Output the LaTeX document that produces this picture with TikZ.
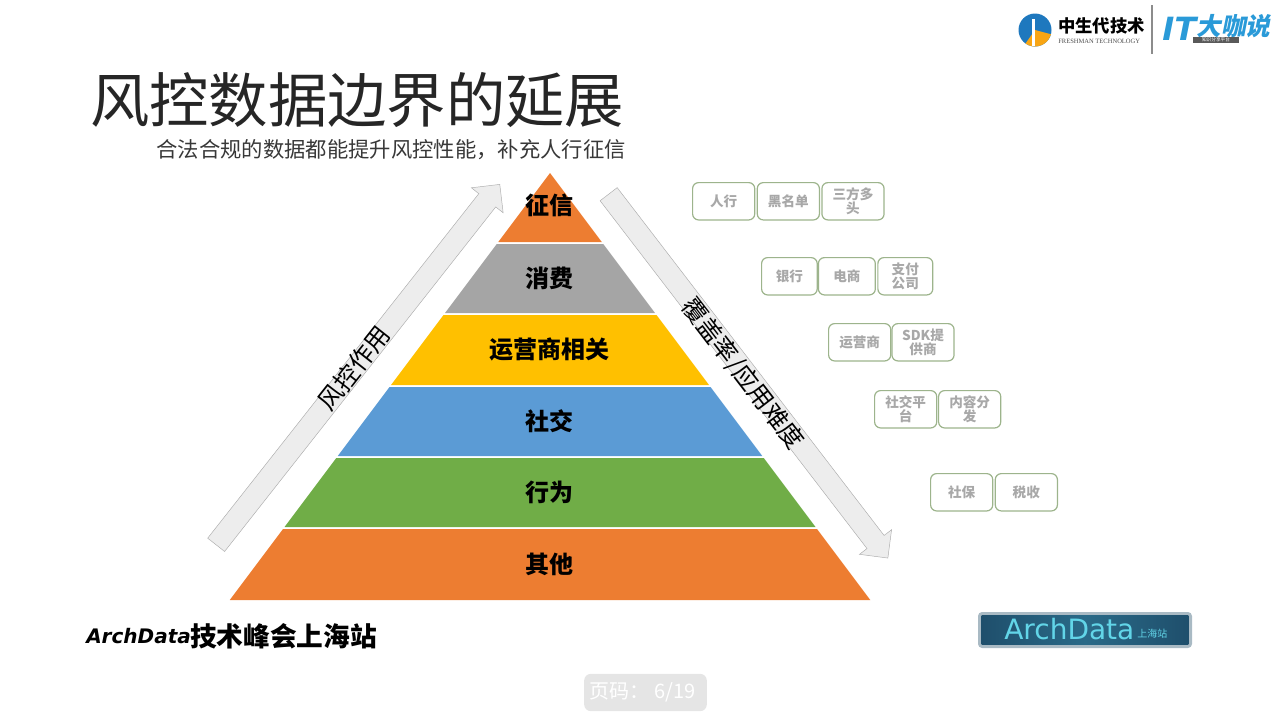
\documentclass[tikz,border=0pt]{standalone}
\usepackage{fontspec}
\setmainfont{Noto Sans CJK SC}
\newfontfamily\logofont{DejaVu Sans}
\newfontfamily\serifont{Liberation Serif}
\usetikzlibrary{positioning,shapes.arrows}
\definecolor{bandOrange}{HTML}{ED7D31}
\definecolor{bandGray}{HTML}{A5A5A5}
\definecolor{bandGold}{HTML}{FFC000}
\definecolor{bandBlue}{HTML}{5B9BD5}
\definecolor{bandGreen}{HTML}{70AD47}
\definecolor{sourceEdge}{HTML}{9DB48C}
\definecolor{sourceText}{HTML}{A8A8A8}
\definecolor{logoBlue}{HTML}{1E78BE}
\definecolor{logoCyan}{HTML}{2A9AD8}
\definecolor{badgeDark}{HTML}{1F4F6C}
\definecolor{badgeMid}{HTML}{2A6A88}
\definecolor{badgeGlow}{HTML}{A9BAC4}
\definecolor{badgeText}{HTML}{62D5E8}
\tikzset{
    bandlabel/.style={font=\fontsize{18}{18}\selectfont\bfseries, text=black, inner sep=0pt},
    sourcebox/.style={
        draw=sourceEdge,
        line width=0.9pt,
        rounded corners=4.5pt,
        fill=white,
        inner sep=0pt,
        minimum height=28pt,
        minimum width=46.6pt,
        align=center,
        text=sourceText,
        font=\fontsize{10.2}{11}\selectfont\bfseries
    },
    sideflow/.style={
        single arrow,
        draw=black!32,
        fill=black!7,
        line width=0.35pt,
        inner sep=7.9pt,
        minimum width=30pt,
        minimum height=344pt,
        single arrow head extend=7.1pt,
        single arrow head indent=0pt,
        anchor=tail
    },
    sidetext/.style={font=\fontsize{18.5}{18.5}\selectfont, inner sep=0pt}
}
\begin{document}
\begin{tikzpicture}[x=0.75pt,y=-0.75pt]
\useasboundingbox (0,0) rectangle (1280,718);
\foreach \topy/\boty/\bandcol in {173/242/bandOrange,244/313/bandGray,315/385/bandGold,387/456/bandBlue,458/527/bandGreen,529/600/bandOrange}{
    \fill[\bandcol] ({550-0.75*(\topy-173)},\topy) -- ({550+0.75*(\topy-173)},\topy)
        -- ({550+0.75*(\boty-173)},\boty) -- ({550-0.75*(\boty-173)},\boty) -- cycle;
}
\node[bandlabel] (credit) at (549.5,205) {征信};
\node[bandlabel] (spend) at (549.5,278) {消费};
\node[bandlabel] (carrier) at (549.5,349) {运营商相关};
\node[bandlabel] (social) at (549.5,421) {社交};
\node[bandlabel] (behave) at (549.5,492) {行为};
\node[bandlabel] (other) at (549.5,564) {其他};

\node[font=\fontsize{44.5}{44.5}\selectfont, text=black!85, inner sep=0pt] (title) at (357,100) {风控数据边界的延展};
\node[font=\fontsize{16}{16}\selectfont, text=black!78, inner sep=0pt] (subtitle) at (391,150) {合法合规的数据都能提升风控性能，补充人行征信};

\node[sideflow, rotate=51.8] (riskflow) at (216,545) {};
\node[sidetext, rotate=51.8] (risktext) at (354,368) {风控作用};
\node[sideflow, rotate=-52.5] (coverflow) at (608.5,194) {};
\node[sidetext, rotate=-52.5] (covertext) at (743,374) {覆盖率/应用难度};

\node[sourcebox, anchor=north west] (pboc) at (692,182) {人行};
\node[sourcebox, right=1pt of pboc] (blacklist) {黑名单};
\node[sourcebox, right=1pt of blacklist] (thirdparty) {三方多\\头};

\node[sourcebox, minimum width=41.7pt, anchor=north west] (bank) at (761,257) {银行};
\node[sourcebox, minimum width=42.7pt, right=0pt of bank] (ecom) {电商};
\node[sourcebox, minimum width=41.2pt, right=1pt of ecom] (pay) {支付\\公司};

\node[sourcebox, anchor=north west] (telecom) at (828,323) {运营商};
\node[sourcebox, right=0pt of telecom] (sdk) {SDK提\\供商};

\node[sourcebox, anchor=north west] (platform) at (874,390) {社交平\\台};
\node[sourcebox, right=0.5pt of platform] (content) {内容分\\发};

\node[sourcebox, anchor=north west] (insure) at (930,473) {社保};
\node[sourcebox, right=1pt of insure] (tax) {税收};

\node[font=\fontsize{15}{15}\selectfont\bfseries\itshape\logofont, inner sep=0pt, anchor=west] (archname) at (86,636) {ArchData};
\node[font=\fontsize{20}{20}\selectfont\bfseries, inner sep=0pt, anchor=west] (archcn) at (190,636) {技术峰会上海站};

\node[fill=black!10, rounded corners=5pt, minimum width=92pt, minimum height=28pt, inner sep=0pt] (pagebox) at (645.5,692.5) {};
\node[text=white, font=\fontsize{15}{15}\selectfont, inner sep=0pt] (pageno) at (642.5,692.5) {页码： 6/19};

\node[fill=badgeGlow, minimum width=160.5pt, minimum height=27pt, inner sep=0pt, rounded corners=3pt] (badgeglow) at (1085,630) {};
\node[left color=badgeDark, right color=badgeDark, middle color=badgeMid, minimum width=155pt, minimum height=22pt, inner sep=0pt] (badge) at (1085,630) {};
\node[text=badgeText, font=\fontsize{21}{21}\selectfont\logofont, inner sep=0pt, anchor=west] (badgename) at (1004,629) {ArchData};
\node[text=badgeText, font=\fontsize{7.5}{7.5}\selectfont, inner sep=0pt, anchor=west] (badgecity) at (1137,634) {上海站};

\fill[logoBlue] (1035,30) circle (16.5);
\fill[bandGold!60!bandOrange] (1035,30) -- ++(15:16.5) arc (15:125:16.5) -- cycle;
\fill[white] (1032,19) rectangle (1035,46);
\node[font=\fontsize{13}{13}\selectfont\bfseries, inner sep=0pt, anchor=west] (zsdname) at (1058,26) {中生代技术};
\node[font=\fontsize{4.9}{5}\selectfont\serifont, text=black!70, inner sep=0pt, anchor=west] (zsden) at (1058,41) {FRESHMAN TECHNOLOGY};
\coordinate (ruletop) at (1152,5);
\coordinate (rulebot) at (1152,54);
\draw[black!45, line width=0.9pt] (ruletop) -- (rulebot);
\node[xslant=0.2, text=logoCyan, font=\fontsize{24}{24}\selectfont\bfseries\logofont, inner sep=0pt, anchor=west] (itname) at (1163,29) {IT};
\node[xslant=0.2, text=logoCyan, font=\fontsize{18.5}{18.5}\selectfont\bfseries, inner sep=0pt, anchor=west] (itcn) at (1198,26) {大咖说};
\node[fill=black!65, text=white, font=\fontsize{3.5}{4}\selectfont, inner sep=0.6pt, minimum width=34pt] (itbar) at (1216,40) {知识分享平台};
\end{tikzpicture}
\end{document}
